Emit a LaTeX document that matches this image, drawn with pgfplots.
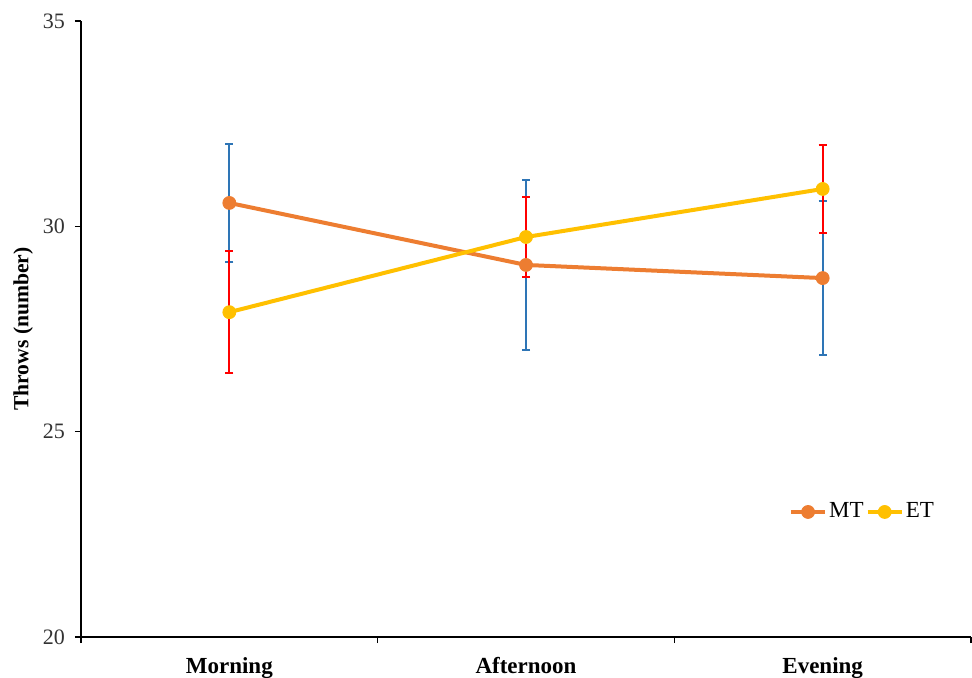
\documentclass[border=0pt]{standalone}
\usepackage{pgfplots}
\pgfplotsset{compat=1.18}
\usepackage{fontspec}
\setmainfont{Liberation Serif}
\definecolor{mtc}{RGB}{237,125,49}
\definecolor{etc}{RGB}{255,192,0}
\definecolor{mterr}{RGB}{46,117,182}
\definecolor{eterr}{RGB}{255,0,0}
\begin{document}
\begin{tikzpicture}
\useasboundingbox (-40.5pt,-20pt) rectangle (445.5pt,318.5pt);
\begin{axis}[
  scale only axis,
  width=445pt, height=308pt,
  at={(0,0)}, anchor=south west,
  xmin=0, xmax=3, ymin=20, ymax=35,
  axis x line*=bottom, axis y line*=left,
  axis line style={-, black, line width=0.6pt},
  ytick={20,25,30,35},
  xtick={0.5,1.5,2.5},
  xticklabels={Morning,Afternoon,Evening},
  minor xtick={0,1,2,3},
  tick align=outside,
  major tick length=3pt,
  minor tick length=3pt,
  x tick style={draw=none},
  minor x tick style={draw=black, line width=0.6pt},
  y tick style={black, line width=0.6pt},
  /pgf/number format/assume math mode=true,
  tick label style={font=\fontsize{11}{12}\selectfont, text=black!80},
  yticklabel style={xshift=-1.5pt},
  xticklabel style={font=\fontsize{11.5}{13}\selectfont\bfseries, text=black, yshift=-3.5pt},
  ylabel={Throws (number)},
  every axis y label/.style={at={(axis description cs:-0.065,0.5)}, rotate=90, anchor=center, font=\fontsize{10.8}{12}\selectfont\bfseries},
  legend style={draw=none, fill=none, at={(axis description cs:0.878,0.203)}, anchor=center, font=\fontsize{11.5}{12}\selectfont, column sep=0pt, inner sep=0pt, nodes={inner sep=1pt}},
  legend columns=2,
  legend cell align=left,
  clip=false,
]
\addplot[color=mtc, line width=2pt, mark=*, mark size=3.2pt, mark options={fill=mtc, draw=mtc, line width=0.5pt},
  error bars/.cd, y dir=both, y explicit,
  error bar style={draw=mterr, line width=1pt},
  error mark options={rotate=90, mark size=2pt, draw=mterr, line width=1pt}]
  coordinates {(0.5,30.57) +- (0,1.43) (1.5,29.06) +- (0,2.06) (2.5,28.74) +- (0,1.87)};
\addlegendentry{MT}
\addplot[color=etc, line width=2pt, mark=*, mark size=3.2pt, mark options={fill=etc, draw=etc, line width=0.5pt},
  error bars/.cd, y dir=both, y explicit,
  error bar style={draw=eterr, line width=1pt},
  error mark options={rotate=90, mark size=2pt, draw=eterr, line width=1pt}]
  coordinates {(0.5,27.91) +- (0,1.49) (1.5,29.74) +- (0,0.97) (2.5,30.91) +- (0,1.08)};
\addlegendentry{ET}
\end{axis}
\end{tikzpicture}
\end{document}
